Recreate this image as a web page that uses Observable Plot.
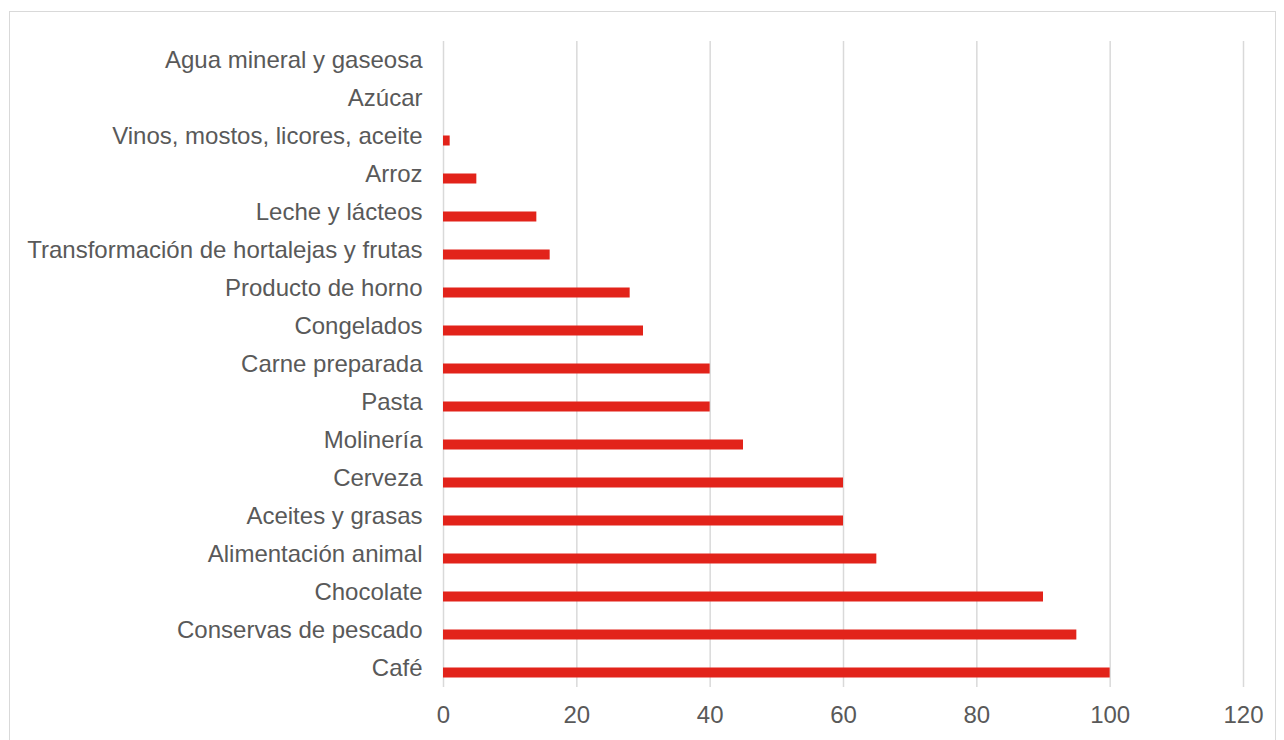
<!DOCTYPE html>
<html><head><meta charset="utf-8">
<script src="https://cdn.jsdelivr.net/npm/d3@7"></script>
<script src="https://cdn.jsdelivr.net/npm/@observablehq/plot@0.6"></script>
<style>
body{margin:0;background:#fff;}
#wrap{position:relative;width:1284px;height:740px;}
#border{position:absolute;left:9px;top:11px;width:1267px;height:740px;border:1px solid #d9d9d9;box-sizing:border-box;pointer-events:none;}
</style>
</head><body>
<div id="wrap"><div id="border"></div></div>
<script>
const categories = ["Agua mineral y gaseosa","Azúcar","Vinos, mostos, licores, aceite","Arroz","Leche y lácteos","Transformación de hortalejas y frutas","Producto de horno","Congelados","Carne preparada","Pasta","Molinería","Cerveza","Aceites y grasas","Alimentación animal","Chocolate","Conservas de pescado","Café"];
const values = [0,0,1,5,14,16,28,30,40,40,45,60,60,65,90,95,100];
const xTicks = [0,20,40,60,80,100,120];
const data = categories.map((c,i)=>({cat:c, v:values[i]}));
const chart = Plot.plot({
  width:1284, height:740,
  marginLeft:443, marginRight:41, marginTop:41, marginBottom:53,
  style:{fontFamily:"'Liberation Sans', Arial, sans-serif", fontSize:"24px", color:"#595959", background:"transparent"},
  x:{domain:[0,120], ticks:xTicks, label:null},
  y:{domain:categories, paddingInner:0.74, paddingOuter:0.37, label:null},
  marks:[
    Plot.gridX(xTicks,{stroke:"#d9d9d9", strokeOpacity:1, strokeWidth:1.5}),
    Plot.barX(data,{x:"v", y:"cat", fill:"#e2231a", dy:4.5}),
    Plot.axisX({ticks:xTicks, tickSize:0, tickPadding:18, fontSize:24, fill:"#595959", label:null}),
    Plot.axisY({tickSize:0, tickPadding:21, fontSize:24, fill:"#595959", label:null})
  ]
});
chart.style.position="absolute"; chart.style.left="0"; chart.style.top="0";
document.getElementById("wrap").appendChild(chart);
</script>
</body></html>
